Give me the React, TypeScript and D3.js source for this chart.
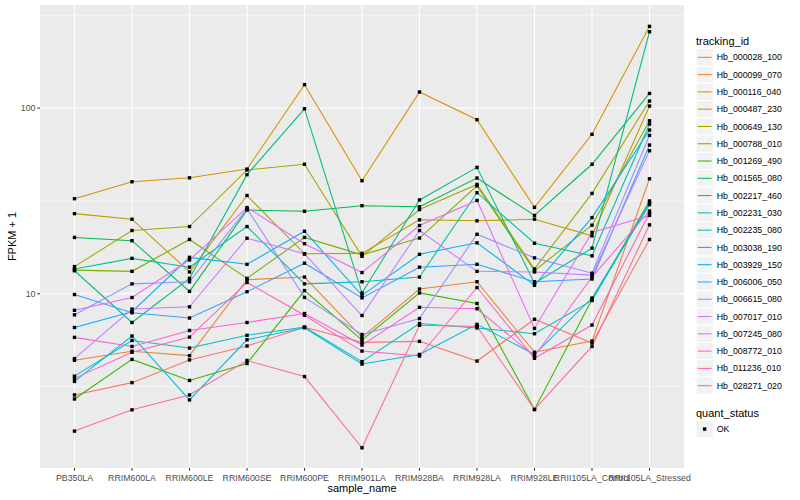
import { useRef, useEffect } from 'react';
import * as d3 from 'd3';

// sample order on the x axis
const samples = [
    'PB350LA', 'RRIM600LA', 'RRIM600LE', 'RRIM600SE', 'RRIM600PE', 'RRIM901LA',
    'RRIM928BA', 'RRIM928LA', 'RRIM928LE', 'RRII105LA_Control', 'RRII105LA_Stressed',
];

const trackingIds = [
    'Hb_000028_100', 'Hb_000099_070', 'Hb_000116_040', 'Hb_000487_230', 'Hb_000649_130',
    'Hb_000788_010', 'Hb_001269_490', 'Hb_001565_080', 'Hb_002217_460', 'Hb_002231_030',
    'Hb_002235_080', 'Hb_003038_190', 'Hb_003929_150', 'Hb_006006_050', 'Hb_006615_080',
    'Hb_007017_010', 'Hb_007245_080', 'Hb_008772_010', 'Hb_011236_010', 'Hb_028271_020',
];

// FPKM + 1, one value per sample
const hb000028_100 = [2.85, 3.32, 4.4, 5.23, 6.59, 5.47, 5.54, 4.34, 7.29, 5.43, 19.6];
const hb000099_070 = [4.38, 4.9, 4.64, 11.9, 12.3, 5.82, 10.6, 11.6, 4.84, 5.56, 41.6];
const hb000116_040 = [32.5, 40.1, 42.1, 46.9, 133.6, 40.6, 122.0, 86.5, 29.2, 72.2, 275.4];
const hb000487_230 = [27.0, 25.2, 13.1, 33.8, 16.4, 16.5, 25.0, 24.7, 25.2, 20.5, 102.5];
const hb000649_130 = [14.0, 21.9, 23.0, 46.4, 49.8, 15.9, 28.4, 38.8, 13.6, 34.7, 109.1];
const hb000788_010 = [13.4, 13.2, 19.6, 12.1, 20.1, 16.2, 19.95, 38.1, 13.3, 23.4, 85.4];
const hb001269_490 = [2.71, 4.43, 3.41, 4.21, 10.4, 5.63, 10.1, 8.86, 2.38, 9.3, 31.6];
const hb001565_080 = [20.1, 19.3, 10.3, 28.2, 27.8, 29.8, 29.4, 42.0, 26.4, 49.8, 119.9];
const hb002217_460 = [13.3, 7.0, 12.1, 43.8, 99.1, 10.1, 32.0, 47.9, 11.4, 17.6, 257.6];
const hb002231_030 = [13.6, 15.5, 13.9, 23.0, 11.3, 11.6, 12.3, 35.0, 18.7, 16.0, 82.0];
const hb002235_080 = [3.6, 5.6, 5.1, 5.97, 6.62, 4.31, 6.91, 6.54, 6.09, 9.2, 30.9];
const hb003038_190 = [3.37, 5.92, 2.68, 5.65, 6.56, 4.18, 4.71, 6.84, 4.72, 9.48, 30.2];
const hb003929_150 = [6.58, 8.0, 15.7, 14.4, 21.7, 9.8, 16.3, 18.8, 11.1, 25.7, 76.1];
const hb006006_050 = [9.9, 7.9, 7.4, 10.25, 14.6, 9.5, 13.9, 14.4, 11.6, 12.0, 63.2];
const hb006615_080 = [7.7, 11.3, 11.6, 28.7, 9.56, 6.03, 7.35, 20.9, 15.6, 12.9, 71.3];
const hb007017_010 = [4.47, 8.27, 8.5, 19.9, 16.4, 7.63, 21.9, 13.2, 13.1, 12.6, 58.9];
const hb007245_080 = [8.14, 9.54, 15.2, 29.1, 18.6, 13.0, 23.3, 31.8, 6.5, 21.4, 26.4];
const hb008772_010 = [5.82, 5.2, 6.34, 7.0, 7.82, 5.29, 8.45, 8.3, 4.6, 12.3, 27.9];
const hb011236_010 = [3.5, 4.84, 5.84, 11.5, 7.65, 4.91, 4.62, 10.8, 4.49, 6.78, 27.2];
const hb028271_020 = [1.82, 2.37, 2.85, 4.37, 3.58, 1.48, 6.76, 6.66, 2.38, 5.2, 23.5];

const seriesValues = [
    hb000028_100, hb000099_070, hb000116_040, hb000487_230, hb000649_130,
    hb000788_010, hb001269_490, hb001565_080, hb002217_460, hb002231_030,
    hb002235_080, hb003038_190, hb003929_150, hb006006_050, hb006615_080,
    hb007017_010, hb007245_080, hb008772_010, hb011236_010, hb028271_020,
];

const yTicks = [10, 100];

// ggplot2 default hue palette for 20 groups
const palette = [
    '#F8766D', '#EA8331', '#D89000', '#C09B00', '#A3A500', '#7CAE00', '#39B600',
    '#00BB4E', '#00BF7D', '#00C1A3', '#00BFC4', '#00BAE0', '#00B0F6', '#35A2FF',
    '#9590FF', '#C77CFF', '#E76BF3', '#FA62DB', '#FF62BC', '#FF6C91',
];

const FONT = '"Liberation Sans", Arial, Helvetica, sans-serif';

export default function App() {
    const svgRef = useRef<SVGSVGElement>(null);

    useEffect(() => {
        if (!svgRef.current) return;
        const width = 800;
        const height = 500;
        const panel = { left: 40, right: 684, top: 5, bottom: 468 };

        const svg = d3.select(svgRef.current);
        svg.selectAll('*').remove();
        svg.attr('width', width).attr('height', height);

        svg.append('rect').attr('width', width).attr('height', height).attr('fill', '#fff');

        // discrete x with ggplot's 0.6 expansion
        const step = (panel.right - panel.left) / (samples.length - 1 + 1.2);
        const x = d3.scalePoint<string>()
            .domain(samples)
            .range([panel.left + 0.6 * step, panel.right - 0.6 * step]);

        const y = d3.scaleLog()
            .domain([Math.pow(10, 0.0614), Math.pow(10, 2.555)])
            .range([panel.bottom, panel.top]);

        // panel background
        svg.append('rect')
            .attr('x', panel.left)
            .attr('y', panel.top)
            .attr('width', panel.right - panel.left)
            .attr('height', panel.bottom - panel.top)
            .attr('fill', '#EBEBEB');

        const grid = svg.append('g');
        // minor grid at half decades
        [0.5, 1.5, 2.5].forEach(e => {
            const yy = y(Math.pow(10, e));
            grid.append('line')
                .attr('x1', panel.left).attr('x2', panel.right)
                .attr('y1', yy).attr('y2', yy)
                .attr('stroke', '#fff').attr('stroke-width', 0.55);
        });
        yTicks.forEach(t => {
            grid.append('line')
                .attr('x1', panel.left).attr('x2', panel.right)
                .attr('y1', y(t)).attr('y2', y(t))
                .attr('stroke', '#fff').attr('stroke-width', 1.1);
        });
        samples.forEach(s => {
            grid.append('line')
                .attr('x1', x(s)!).attr('x2', x(s)!)
                .attr('y1', panel.top).attr('y2', panel.bottom)
                .attr('stroke', '#fff').attr('stroke-width', 1.1);
        });

        // lines
        const line = d3.line<number>()
            .x((_, i) => x(samples[i])!)
            .y(d => y(d));

        const lines = svg.append('g');
        seriesValues.forEach((vals, i) => {
            lines.append('path')
                .attr('d', line(vals)!)
                .attr('fill', 'none')
                .attr('stroke', palette[i])
                .attr('stroke-width', 1.07);
        });

        // points
        const pts = svg.append('g');
        seriesValues.forEach(vals => {
            vals.forEach((v, j) => {
                pts.append('rect')
                    .attr('x', x(samples[j])! - 1.7)
                    .attr('y', y(v) - 1.7)
                    .attr('width', 3.4)
                    .attr('height', 3.4)
                    .attr('fill', '#000');
            });
        });

        // axes
        const axisG = svg.append('g');
        samples.forEach(s => {
            axisG.append('line')
                .attr('x1', x(s)!).attr('x2', x(s)!)
                .attr('y1', panel.bottom).attr('y2', panel.bottom + 2.75)
                .attr('stroke', '#333').attr('stroke-width', 1.07);
            axisG.append('text')
                .attr('x', x(s)!)
                .attr('y', panel.bottom + 12.5)
                .attr('text-anchor', 'middle')
                .attr('fill', '#4D4D4D')
                .style('font-family', FONT)
                .style('font-size', '8.8px')
                .text(s);
        });
        yTicks.forEach(t => {
            axisG.append('line')
                .attr('x1', panel.left - 2.75).attr('x2', panel.left)
                .attr('y1', y(t)).attr('y2', y(t))
                .attr('stroke', '#333').attr('stroke-width', 1.07);
            axisG.append('text')
                .attr('x', panel.left - 4.5)
                .attr('y', y(t) + 3.1)
                .attr('text-anchor', 'end')
                .attr('fill', '#4D4D4D')
                .style('font-family', FONT)
                .style('font-size', '8.8px')
                .text(d3.format('d')(t));
        });

        svg.append('text')
            .attr('x', (panel.left + panel.right) / 2)
            .attr('y', 492)
            .attr('text-anchor', 'middle')
            .attr('fill', '#000')
            .style('font-family', FONT)
            .style('font-size', '11px')
            .text('sample_name');

        svg.append('text')
            .attr('transform', `translate(16, ${(panel.top + panel.bottom) / 2}) rotate(-90)`)
            .attr('text-anchor', 'middle')
            .attr('fill', '#000')
            .style('font-family', FONT)
            .style('font-size', '11px')
            .text('FPKM + 1');

        // legend: tracking_id
        const keySize = 17.28;
        const legend = svg.append('g').attr('transform', 'translate(696, 0)');
        legend.append('text')
            .attr('x', 0)
            .attr('y', 44.5)
            .attr('fill', '#000')
            .style('font-family', FONT)
            .style('font-size', '11px')
            .text('tracking_id');

        trackingIds.forEach((id, i) => {
            const top = 48.7 + i * keySize;
            const item = legend.append('g').attr('transform', `translate(0, ${top})`);
            item.append('rect')
                .attr('width', keySize)
                .attr('height', keySize)
                .attr('fill', '#F2F2F2')
                .attr('stroke', '#fff')
                .attr('stroke-width', 1);
            item.append('line')
                .attr('x1', 1.7).attr('x2', keySize - 1.7)
                .attr('y1', keySize / 2).attr('y2', keySize / 2)
                .attr('stroke', palette[i])
                .attr('stroke-width', 1.07);
            item.append('text')
                .attr('x', keySize + 3.5)
                .attr('y', keySize / 2 + 3.1)
                .attr('fill', '#000')
                .style('font-family', FONT)
                .style('font-size', '8.8px')
                .text(id);
        });

        // legend: quant_status
        legend.append('text')
            .attr('x', 0)
            .attr('y', 416.5)
            .attr('fill', '#000')
            .style('font-family', FONT)
            .style('font-size', '11px')
            .text('quant_status');
        const ok = legend.append('g').attr('transform', 'translate(0, 420.4)');
        ok.append('rect')
            .attr('width', keySize)
            .attr('height', keySize)
            .attr('fill', '#F2F2F2')
            .attr('stroke', '#fff')
            .attr('stroke-width', 1);
        ok.append('rect')
            .attr('x', keySize / 2 - 1.7)
            .attr('y', keySize / 2 - 1.7)
            .attr('width', 3.4)
            .attr('height', 3.4)
            .attr('fill', '#000');
        ok.append('text')
            .attr('x', keySize + 3.5)
            .attr('y', keySize / 2 + 3.1)
            .attr('fill', '#000')
            .style('font-family', FONT)
            .style('font-size', '8.8px')
            .text('OK');
    }, []);

    return (
        <div style={{ position: 'absolute', left: 0, top: 0 }}>
            <svg ref={svgRef}></svg>
        </div>
    );
}
